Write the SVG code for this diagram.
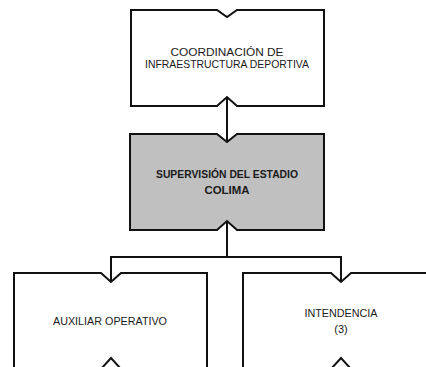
<svg xmlns="http://www.w3.org/2000/svg" width="426" height="367" viewBox="0 0 426 367">
<style>
.box{fill:#ffffff;stroke:#111111;stroke-width:2;stroke-linejoin:miter}
.gray{fill:#c0c0c0}
.t{font-family:"Liberation Sans",Arial,sans-serif;font-size:11px;fill:#1a1a1a;text-anchor:middle}
.b{font-weight:bold}
.c{fill:none;stroke:#111111;stroke-width:2}
</style>
<rect width="426" height="367" fill="#ffffff"/>
<g id="connectors">
<path class="c" d="M227 97 V141"/>
<path class="c" d="M227 221 V257"/>
<path class="c" d="M111 257 H341"/>
<path class="c" d="M111 256 V282"/>
<path class="c" d="M341 256 V282"/>
</g>
<g id="node-coordinacion">
<path class="box" d="M131 10 H217 L227 17 L237 10 H324 V106 H237 L227 97 L217 106 H131 Z"/>
<text class="t" x="227" y="56" textLength="113" lengthAdjust="spacingAndGlyphs">COORDINACIÓN DE</text>
<text class="t" x="227" y="68" textLength="164" lengthAdjust="spacingAndGlyphs">INFRAESTRUCTURA DEPORTIVA</text>
</g>
<g id="node-supervision">
<path class="box gray" d="M130 134 H217 L227 142 L237 134 H324 V230 H237 L227 221 L217 230 H130 Z"/>
<text class="t b" x="227" y="178" textLength="142" lengthAdjust="spacingAndGlyphs">SUPERVISIÓN DEL ESTADIO</text>
<text class="t b" x="227" y="194" textLength="45" lengthAdjust="spacingAndGlyphs">COLIMA</text>
</g>
<g id="node-auxiliar">
<path class="box" d="M14 273 H101 L111 282 L121 273 H207 V369 H121 L111 358 L101 369 H14 Z"/>
<text class="t" x="110" y="325" textLength="114" lengthAdjust="spacingAndGlyphs">AUXILIAR OPERATIVO</text>
</g>
<g id="node-intendencia">
<path class="box" d="M243 273 H331 L341 282 L351 273 H440 V369 H351 L341 358 L331 369 H243 Z"/>
<text class="t" x="341" y="317" textLength="73" lengthAdjust="spacingAndGlyphs">INTENDENCIA</text>
<text class="t" x="341" y="333">(3)</text>
</g>
</svg>
